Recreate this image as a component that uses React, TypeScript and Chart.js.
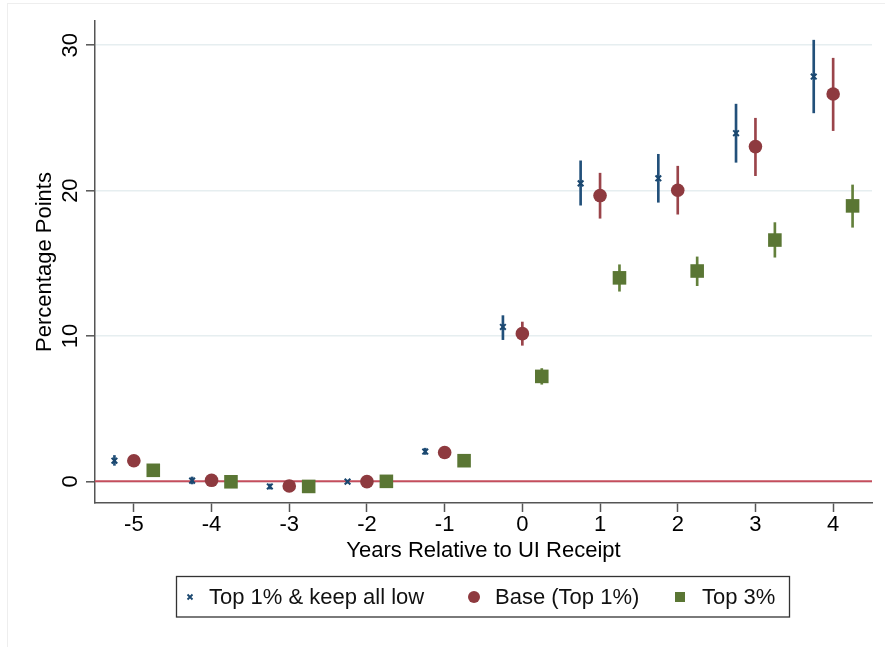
import { useEffect, useRef } from "react";
import { Chart, registerables } from "chart.js";

Chart.register(...registerables);

// ---- data ----
const years = [-5, -4, -3, -2, -1, 0, 1, 2, 3, 4];
const xTickValues = [-5, -4, -3, -2, -1, 0, 1, 2, 3, 4];
const yTickValues = [0, 10, 20, 30];
const seriesNames = ["Top 1% & keep all low", "Base (Top 1%)", "Top 3%"];
const xTitle = "Years Relative to UI Receipt";
const yTitle = "Percentage Points";

const keepLowEst = [1.42, 0.05, -0.35, -0.02, 2.05, 10.62, 20.5, 20.85, 23.95, 27.85];
const keepLowLo = [1.1, -0.18, -0.53, -0.12, 1.85, 9.75, 19.0, 19.2, 21.95, 25.35];
const keepLowHi = [1.78, 0.3, -0.18, 0.08, 2.28, 11.4, 22.05, 22.5, 25.95, 30.35];

const baseEst = [1.42, 0.07, -0.32, -0.02, 1.98, 10.16, 19.66, 20.03, 23.03, 26.65];
const baseLo = [1.1, -0.22, -0.62, -0.18, 1.68, 9.36, 18.1, 18.38, 21.03, 24.13];
const baseHi = [1.75, 0.36, -0.04, 0.12, 2.28, 10.96, 21.2, 21.68, 24.98, 29.11];

const top3Est = [0.76, -0.03, -0.35, 0.0, 1.42, 7.22, 14.0, 14.47, 16.6, 18.95];
const top3Lo = [0.5, -0.27, -0.6, -0.16, 1.15, 6.68, 13.08, 13.46, 15.42, 17.48];
const top3Hi = [1.02, 0.2, -0.1, 0.16, 1.7, 7.76, 14.9, 15.44, 17.8, 20.39];

const xRange = [-5.5, 4.5];
const yRange = [-1.49, 31.67];
const referenceValue = 0;

// ---- styles ----
const FONT = '"Liberation Sans", Arial, Helvetica, sans-serif';
const AXIS = "#555555";
const GRID = "#e6eef0";

const series = [
  { name: seriesNames[0], est: keepLowEst, lo: keepLowLo, hi: keepLowHi, shift: -0.25, color: "#1a476f", ci: "#22507a", style: "crossRot", radius: 4, bw: 2 },
  { name: seriesNames[1], est: baseEst, lo: baseLo, hi: baseHi, shift: 0, color: "#8e3a3f", ci: "#9a444a", style: "circle", radius: 6.8, bw: 0 },
  { name: seriesNames[2], est: top3Est, lo: top3Lo, hi: top3Hi, shift: 0.25, color: "#5a7634", ci: "#63803b", style: "rect", radius: 9.6, bw: 0 },
];

const framePlugin = {
  id: "frame",
  beforeDraw(chart: any) {
    const ctx = chart.ctx;
    ctx.save();
    ctx.fillStyle = "#ffffff";
    ctx.fillRect(0, 0, chart.width, chart.height);
    ctx.strokeStyle = "#eeeeee";
    ctx.lineWidth = 1;
    ctx.strokeRect(7.5, 3.5, chart.width, chart.height);
    ctx.restore();
  },
};

const zeroLinePlugin = {
  id: "zeroLine",
  beforeDatasetsDraw(chart: any) {
    const ctx = chart.ctx;
    const y = chart.scales.y.getPixelForValue(referenceValue);
    const { left, right } = chart.chartArea;
    ctx.save();
    ctx.strokeStyle = "#c44e5c";
    ctx.lineWidth = 2;
    ctx.beginPath();
    ctx.moveTo(left, y);
    ctx.lineTo(right, y);
    ctx.stroke();
    ctx.restore();
  },
};

const legendPlugin = {
  id: "boxLegend",
  afterDraw(chart: any) {
    const ctx = chart.ctx;
    ctx.save();
    ctx.strokeStyle = "#333333";
    ctx.lineWidth = 1.3;
    ctx.strokeRect(176.5, 576.5, 613, 40.5);
    const cy = 597;
    const markerX = [190, 474, 680];
    const textX = [209, 495, 702];
    ctx.font = `22px ${FONT}`;
    ctx.textBaseline = "middle";
    ctx.textAlign = "left";
    series.forEach((s, i) => {
      const mx = markerX[i];
      ctx.fillStyle = s.color;
      ctx.strokeStyle = s.color;
      if (s.style === "crossRot") {
        ctx.lineWidth = 1.8;
        ctx.beginPath();
        ctx.moveTo(mx - 2.5, cy - 2.5);
        ctx.lineTo(mx + 2.5, cy + 2.5);
        ctx.moveTo(mx - 2.5, cy + 2.5);
        ctx.lineTo(mx + 2.5, cy - 2.5);
        ctx.stroke();
      } else if (s.style === "circle") {
        ctx.beginPath();
        ctx.arc(mx, cy, 6, 0, Math.PI * 2);
        ctx.fill();
      } else {
        ctx.fillRect(mx - 5, cy - 5, 10, 10);
      }
      ctx.fillStyle = "#111111";
      ctx.fillText(s.name, textX[i], cy + 1);
    });
    ctx.restore();
  },
};

export default function App() {
  const ref = useRef<HTMLCanvasElement>(null);
  useEffect(() => {
    const canvas = ref.current;
    if (!canvas) return;
    const datasets: any[] = [];
    series.forEach((s) => {
      datasets.push({
        type: "bar",
        label: s.name + " CI",
        data: years.map((yr, i) => ({ x: yr + s.shift, y: [s.lo[i], s.hi[i]] })),
        backgroundColor: s.ci,
        borderWidth: 0,
        barThickness: 2,
        maxBarThickness: 2,
        grouped: false,
        order: 2,
      });
    });
    series.forEach((s) => {
      datasets.push({
        type: "scatter",
        label: s.name,
        data: years.map((yr, i) => ({ x: yr + s.shift, y: s.est[i] })),
        pointStyle: s.style,
        pointRadius: s.radius,
        pointBackgroundColor: s.color,
        pointBorderColor: s.color,
        pointBorderWidth: s.bw,
        order: 1,
      });
    });

    const chart = new Chart(canvas, {
      type: "scatter",
      data: { datasets },
      options: {
        animation: false,
        responsive: false,
        devicePixelRatio: 1,
        events: [],
        layout: { padding: { left: 0, right: 13, top: 21, bottom: 74 } },
        plugins: { legend: { display: false }, tooltip: { enabled: false } },
        scales: {
          x: {
            type: "linear",
            min: xRange[0],
            max: xRange[1],
            offset: false,
            afterBuildTicks: (s: any) => {
              s.ticks = xTickValues.map((v) => ({ value: v }));
            },
            afterFit: (s: any) => {
              s.height = 70;
            },
            grid: {
              display: true,
              offset: false,
              drawOnChartArea: false,
              drawTicks: true,
              tickLength: 9,
              tickColor: AXIS,
              tickWidth: 1.5,
            },
            border: { display: true, color: AXIS, width: 1.5 },
            ticks: {
              autoSkip: false,
              maxRotation: 0,
              minRotation: 0,
              padding: 0,
              color: "#000000",
              font: { family: FONT, size: 22 },
              callback: (v: any) => String(v),
            },
            title: {
              display: true,
              text: xTitle,
              color: "#000000",
              font: { family: FONT, size: 22 },
              padding: { top: 0, bottom: 9 },
            },
          },
          y: {
            type: "linear",
            min: yRange[0],
            max: yRange[1],
            offset: false,
            afterBuildTicks: (s: any) => {
              s.ticks = yTickValues.map((v) => ({ value: v }));
            },
            afterFit: (s: any) => {
              s.width = 95;
            },
            grid: {
              display: true,
              offset: false,
              color: GRID,
              lineWidth: 1.6,
              drawTicks: true,
              tickLength: 9,
              tickColor: AXIS,
              tickWidth: 1.5,
            },
            border: { display: true, color: AXIS, width: 1.5 },
            ticks: {
              autoSkip: false,
              minRotation: 90,
              maxRotation: 90,
              crossAlign: "center",
              padding: 3,
              color: "#000000",
              font: { family: FONT, size: 22 },
              callback: (v: any) => String(v),
            },
            title: {
              display: true,
              text: yTitle,
              color: "#000000",
              font: { family: FONT, size: 22 },
              padding: { top: 32, bottom: 0 },
            },
          },
        },
      },
      plugins: [framePlugin, zeroLinePlugin, legendPlugin],
    } as any);
    return () => chart.destroy();
  }, []);

  return (
    <div style={{ position: "absolute", left: 0, top: 0, width: 885, height: 647, background: "#fff" }}>
      <canvas ref={ref} width={885} height={647} style={{ display: "block", width: 885, height: 647 }} />
    </div>
  );
}
